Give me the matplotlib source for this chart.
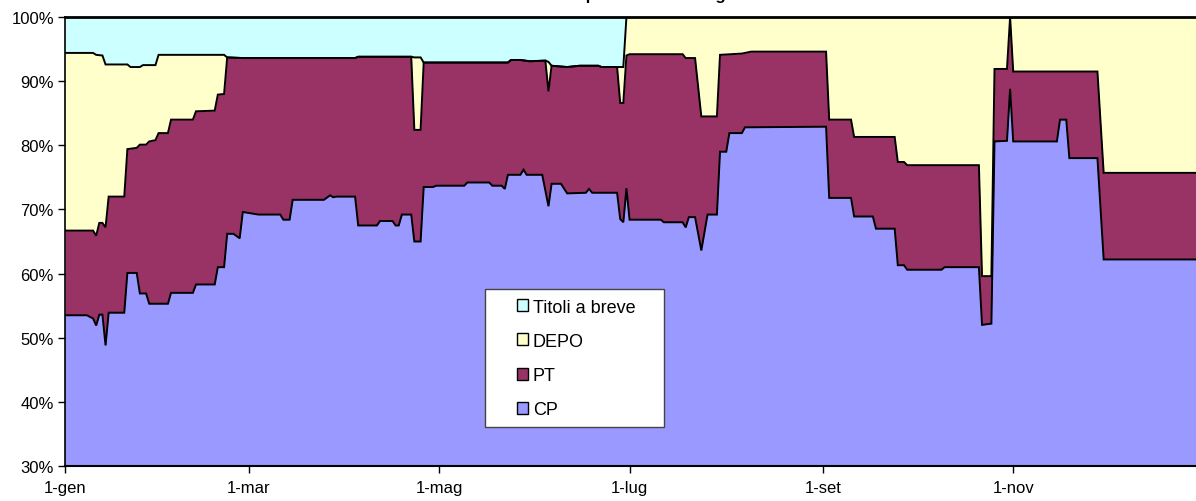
import matplotlib.pyplot as plt
from matplotlib.patches import Patch, Rectangle

plt.rcParams['font.family'] = ['Liberation Sans', 'DejaVu Sans']

# days from 1 January, values in % (cumulative levels as drawn in the chart)
# CP share
cp_days = [0, 7, 9, 10, 11, 12, 13, 14, 19, 20, 23, 24, 26, 27, 33, 34, 41, 42, 48, 49,
           51, 52, 54, 56, 57, 62, 69, 70, 72, 73, 83, 85, 86, 87, 93, 94, 100, 101, 105,
           106, 107, 108, 111, 112, 114, 115, 118, 119, 128, 129, 136, 137, 140, 141, 142,
           146, 147, 148, 153, 155, 156, 159, 161, 167, 168, 169, 177, 178, 179, 180, 181,
           191, 192, 198, 199, 200, 202, 204, 206, 209, 210, 212, 213, 217, 218, 244, 245,
           252, 253, 259, 260, 266, 267, 269, 270, 281, 282, 293, 294, 297, 298, 302, 303,
           304, 318, 319, 321, 322, 331, 333, 363]
cp_vals = [53.5, 53.5, 53.0, 51.9, 53.6, 53.6, 48.8, 53.9, 53.9, 60.1, 60.1, 56.9, 56.9,
           55.3, 55.3, 57.0, 57.0, 58.3, 58.3, 61.0, 61.0, 66.2, 66.2, 65.5, 69.6, 69.2,
           69.2, 68.4, 68.4, 71.5, 71.5, 72.2, 71.9, 72.0, 72.0, 67.5, 67.5, 68.2, 68.2,
           67.5, 67.5, 69.2, 69.2, 65.0, 65.0, 73.5, 73.5, 73.7, 73.7, 74.2, 74.2, 73.7,
           73.7, 73.2, 75.4, 75.4, 76.2, 75.4, 75.4, 70.5, 74.0, 74.0, 72.5, 72.6, 73.2,
           72.6, 72.6, 68.5, 68.0, 73.3, 68.4, 68.4, 68.0, 68.0, 67.2, 68.8, 68.8, 63.6,
           69.2, 69.2, 79.0, 79.0, 81.9, 81.9, 82.8, 82.9, 71.8, 71.8, 68.9, 68.9, 67.0,
           67.0, 61.3, 61.3, 60.6, 60.6, 61.0, 61.0, 52.0, 52.2, 80.6, 80.7, 88.8, 80.6,
           80.6, 84.0, 84.0, 78.0, 78.0, 62.2, 62.2]

# CP + PT
pt_days = [0, 9, 10, 11, 12, 13, 14, 19, 20, 23, 24, 26, 27, 29, 30, 33, 34, 41, 42, 48,
           49, 51, 52, 57, 93, 94, 111, 112, 114, 115, 142, 143, 146, 149, 154, 155, 156,
           161, 165, 171, 172, 177, 178, 179, 180, 181, 198, 199, 202, 204, 209, 210, 217,
           220, 244, 245, 252, 253, 266, 267, 269, 270, 293, 294, 297, 298, 302, 303, 304,
           331, 333, 363]
pt_top = [66.7, 66.7, 65.9, 67.9, 67.9, 67.2, 72.0, 72.0, 79.4, 79.6, 80.1, 80.1, 80.6,
          80.8, 81.9, 81.9, 84.0, 84.0, 85.3, 85.4, 87.9, 88.0, 93.7, 93.6, 93.6, 93.8,
          93.8, 82.4, 82.4, 92.9, 92.9, 93.3, 93.3, 93.1, 93.2, 88.4, 92.4, 92.2, 92.4,
          92.4, 92.2, 92.2, 86.6, 86.6, 94.0, 94.2, 94.2, 93.6, 93.6, 84.5, 84.5, 94.1,
          94.3, 94.6, 94.6, 84.0, 84.0, 81.3, 81.3, 77.4, 77.4, 76.9, 76.9, 59.6, 59.6,
          91.9, 91.9, 100.0, 91.5, 91.5, 75.7, 75.7]

# CP + PT + DEPO (the rest up to 100% is Titoli a breve)
depo_days = [0, 9, 10, 12, 13, 20, 21, 24, 25, 29, 30, 51, 52, 57, 93, 94, 111, 112, 114,
             115, 142, 143, 146, 149, 154, 155, 156, 161, 165, 171, 172, 177, 179, 180, 363]
depo_top = [94.4, 94.4, 94.1, 94.0, 92.6, 92.6, 92.2, 92.2, 92.5, 92.5, 94.1, 94.1, 93.7,
            93.6, 93.6, 93.8, 93.8, 93.7, 93.7, 92.9, 92.9, 93.3, 93.3, 93.1, 93.2, 93.0,
            92.4, 92.2, 92.4, 92.4, 92.2, 92.2, 92.2, 100.0, 100.0]

series = ['Titoli a breve', 'DEPO', 'PT', 'CP']
colors = ['#CCFFFF', '#FFFFCC', '#993366', '#9999FF']

month_days = [0, 59, 120, 181, 243, 304]
month_labels = ['1-gen', '1-mar', '1-mag', '1-lug', '1-set', '1-nov']

fig = plt.figure(figsize=(11.96, 5.02), dpi=100)
ax = fig.add_axes([65 / 1196, 35 / 502, 1 - 65 / 1196, 449 / 502])

ax.fill_between(depo_days, depo_top, 100, color=colors[0], lw=0)
ax.fill_between(depo_days, 30, depo_top, color=colors[1], lw=0)
ax.fill_between(pt_days, 30, pt_top, color=colors[2], lw=0)
ax.fill_between(cp_days, 30, cp_vals, color=colors[3], lw=0)
for d, v in [(depo_days, depo_top), (pt_days, pt_top), (cp_days, cp_vals)]:
    ax.plot(d, v, color='black', lw=1.4, solid_joinstyle='miter')

ax.set_xlim(0, 362.6)
ax.set_ylim(30, 100)
ax.set_yticks(range(30, 101, 10))
ax.set_yticklabels([f'{v}%' for v in range(30, 101, 10)], fontsize=12)
ax.set_xticks(month_days)
ax.set_xticklabels(month_labels, fontsize=12)
ax.tick_params(axis='both', direction='out', length=5, width=1)
ax.tick_params(axis='x', pad=5)
ax.tick_params(axis='y', pad=3)
ax.spines['right'].set_visible(False)
ax.spines['top'].set_linewidth(2)
ax.spines['left'].set_linewidth(1.2)
ax.spines['bottom'].set_linewidth(1.5)

# title sits mostly above the image, only descenders show
fig.text(0.551, 1.0, 'Composizione totale gestito', ha='center', va='baseline',
         fontsize=12, fontweight='bold')

# legend box
fig.patches.append(Rectangle((485 / 1196, 1 - 428 / 502), 179 / 1196, 138 / 502,
                             transform=fig.transFigure, facecolor='white',
                             edgecolor='#444444', lw=1, zorder=5))
handles = [Patch(facecolor=c, edgecolor='black', lw=1) for c in colors]
leg = fig.legend(handles, series, loc='upper left', bbox_to_anchor=(504 / 1196, 1 - 287 / 502),
                 frameon=False, fontsize=13, handlelength=0.65, handleheight=0.65,
                 handletextpad=0.25, labelspacing=0.95, borderpad=0.2)
leg.set_zorder(6)

fig.savefig('out.png', dpi=100)
